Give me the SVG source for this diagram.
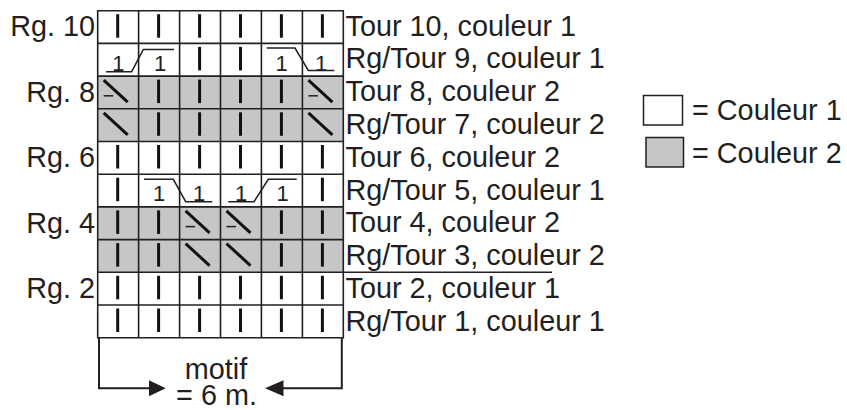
<svg xmlns="http://www.w3.org/2000/svg" width="847" height="410" viewBox="0 0 847 410">
<style>
text{font-family:"Liberation Sans",Arial,sans-serif;fill:#231f20}
.lbl{font-size:28.8px}
.lft{font-size:28.8px;text-anchor:end}
.one{font-size:22px;text-anchor:middle}
.grid{stroke:#231f20;stroke-width:1.6;fill:none}
.br{stroke:#231f20;stroke-width:2;fill:none}
.st{stroke:#111;stroke-width:3;fill:none;stroke-linecap:butt}
.thin{stroke:#231f20;stroke-width:1.5;fill:none}
.c2{fill:#c5c6c5}
.c1{fill:#ffffff}
.ah{fill:#231f20}
</style>
<defs>
<path id="k" class="st" d="M20,3.5V27"/>
<path id="d" class="st" d="M6,4L30,26"/>
<g id="dp"><path class="st" d="M6,4L30,26"/><path class="thin" d="M6,19.7H15.5"/></g>
</defs>

<g id="chart">
<rect class="c1" x="97.7" y="10.7" width="245.6" height="327"/>
<rect class="c2" x="97.7" y="76.1" width="245.6" height="65.4"/>
<rect class="c2" x="97.7" y="206.9" width="245.6" height="65.4"/>
</g>

<g id="row10">
<use href="#k" x="97.7" y="10.7"/><use href="#k" x="138.6" y="10.7"/><use href="#k" x="179.6" y="10.7"/><use href="#k" x="220.5" y="10.7"/><use href="#k" x="261.4" y="10.7"/><use href="#k" x="302.4" y="10.7"/>
</g>
<g id="row9">
<text class="one" x="118.3" y="70.5">1</text><text class="one" x="160" y="70.5">1</text>
<path class="thin" d="M106,71.7H131.7L143.3,49.5H174"/>
<use href="#k" x="179.6" y="43.4"/><use href="#k" x="220.5" y="43.4"/>
<text class="one" x="281.5" y="70.5">1</text><text class="one" x="321" y="70.5">1</text>
<path class="thin" d="M266.7,48H295L308.3,70.5H334.3"/>
</g>
<g id="row8">
<use href="#dp" x="97.7" y="76.1"/><use href="#k" x="138.6" y="76.1"/><use href="#k" x="179.6" y="76.1"/><use href="#k" x="220.5" y="76.1"/><use href="#k" x="261.4" y="76.1"/><use href="#dp" x="302.4" y="76.1"/>
</g>
<g id="row7">
<use href="#d" x="97.7" y="108.8"/><use href="#k" x="138.6" y="108.8"/><use href="#k" x="179.6" y="108.8"/><use href="#k" x="220.5" y="108.8"/><use href="#k" x="261.4" y="108.8"/><use href="#d" x="302.4" y="108.8"/>
</g>
<g id="row6">
<use href="#k" x="97.7" y="141.5"/><use href="#k" x="138.6" y="141.5"/><use href="#k" x="179.6" y="141.5"/><use href="#k" x="220.5" y="141.5"/><use href="#k" x="261.4" y="141.5"/><use href="#k" x="302.4" y="141.5"/>
</g>
<g id="row5">
<use href="#k" x="97.7" y="174.2"/>
<text class="one" x="159.2" y="200.5">1</text><text class="one" x="199.2" y="200.5">1</text>
<path class="thin" d="M144,179.3H173.3L185.7,201.7H212.3"/>
<text class="one" x="241" y="200.5">1</text><text class="one" x="282.5" y="200.5">1</text>
<path class="thin" d="M228.3,201.7H254L268.3,179.3H296.7"/>
<use href="#k" x="302.4" y="174.2"/>
</g>
<g id="row4">
<use href="#k" x="97.7" y="206.9"/><use href="#k" x="138.6" y="206.9"/><use href="#dp" x="179.6" y="206.9"/><use href="#dp" x="220.5" y="206.9"/><use href="#k" x="261.4" y="206.9"/><use href="#k" x="302.4" y="206.9"/>
</g>
<g id="row3">
<use href="#k" x="97.7" y="239.6"/><use href="#k" x="138.6" y="239.6"/><use href="#d" x="179.6" y="239.6"/><use href="#d" x="220.5" y="239.6"/><use href="#k" x="261.4" y="239.6"/><use href="#k" x="302.4" y="239.6"/>
</g>
<g id="row2">
<use href="#k" x="97.7" y="272.3"/><use href="#k" x="138.6" y="272.3"/><use href="#k" x="179.6" y="272.3"/><use href="#k" x="220.5" y="272.3"/><use href="#k" x="261.4" y="272.3"/><use href="#k" x="302.4" y="272.3"/>
</g>
<g id="row1">
<use href="#k" x="97.7" y="305"/><use href="#k" x="138.6" y="305"/><use href="#k" x="179.6" y="305"/><use href="#k" x="220.5" y="305"/><use href="#k" x="261.4" y="305"/><use href="#k" x="302.4" y="305"/>
</g>

<g id="gridlines">
<path class="grid" d="M97.7,10.7H343.3V337.7H97.7Z"/>
<path class="grid" d="M138.6,10.7V337.7M179.6,10.7V337.7M220.5,10.7V337.7M261.4,10.7V337.7M302.4,10.7V337.7"/>
<path class="grid" d="M97.7,43.4H343.3M97.7,76.1H343.3M97.7,108.8H343.3M97.7,141.5H343.3M97.7,174.2H343.3M97.7,206.9H343.3M97.7,239.6H343.3M97.7,272.3H552M97.7,305H343.3"/>
</g>

<g id="left-labels">
<text class="lft" x="95" y="36">Rg. 10</text>
<text class="lft" x="95" y="101.5">Rg. 8</text>
<text class="lft" x="95" y="167">Rg. 6</text>
<text class="lft" x="95" y="232.5">Rg. 4</text>
<text class="lft" x="95" y="298">Rg. 2</text>
</g>

<g id="right-labels">
<text class="lbl" x="345.5" y="35.7">Tour 10, couleur 1</text>
<text class="lbl" x="345.5" y="68.4">Rg/Tour 9, couleur 1</text>
<text class="lbl" x="345.5" y="101.2">Tour 8, couleur 2</text>
<text class="lbl" x="345.5" y="134">Rg/Tour 7, couleur 2</text>
<text class="lbl" x="345.5" y="166.7">Tour 6, couleur 2</text>
<text class="lbl" x="345.5" y="199.5">Rg/Tour 5, couleur 1</text>
<text class="lbl" x="345.5" y="232.2">Tour 4, couleur 2</text>
<text class="lbl" x="345.5" y="265">Rg/Tour 3, couleur 2</text>
<text class="lbl" x="345.5" y="297.7">Tour 2, couleur 1</text>
<text class="lbl" x="345.5" y="330.5">Rg/Tour 1, couleur 1</text>
</g>

<g id="connectors">
<path class="br" d="M99,338V388.3H150"/>
<path class="br" d="M341.8,338V388.3H283"/>
<path class="ah" d="M149,380.3L165.7,388.3L149,396.3Z"/>
<path class="ah" d="M283.5,380.3L265,388.3L283.5,396.3Z"/>
</g>

<g id="motif">
<text class="lbl" x="216" y="378.5" text-anchor="middle">motif</text>
<text class="lbl" x="216.5" y="404.5" text-anchor="middle">= 6 m.</text>
</g>

<g id="legend-1">
<rect x="643.5" y="95.5" width="39" height="29.5" fill="#fff" stroke="#231f20" stroke-width="1.5"/>
<text class="lbl" x="692" y="119.5">= Couleur 1</text>
</g>
<g id="legend-2">
<rect x="646" y="137.5" width="37.5" height="29.5" class="c2" stroke="#231f20" stroke-width="1.5"/>
<text class="lbl" x="692" y="163">= Couleur 2</text>
</g>
</svg>
